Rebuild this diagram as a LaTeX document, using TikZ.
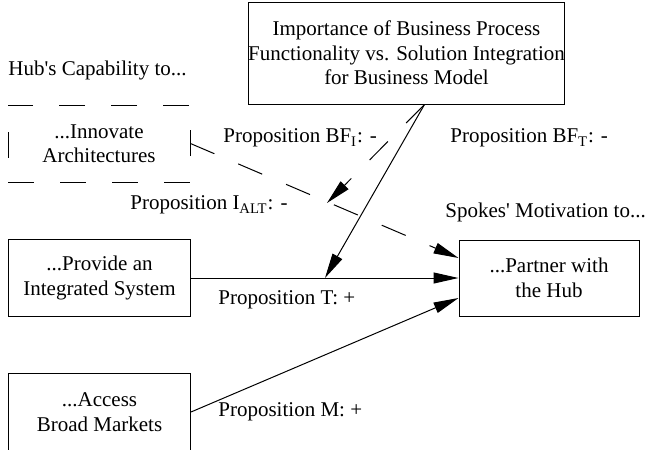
\documentclass[tikz,border=0pt]{standalone}
\usepackage{fontspec}
\setmainfont{Liberation Serif}
\usetikzlibrary{arrows.meta}

\tikzset{
  box/.style={draw, line width=0.5pt, align=center, inner sep=0pt,
    minimum width=91pt, minimum height=38.5pt},
  dashbox/.style={box, line width=0.45pt, dash pattern=on 13pt off 13pt},
  lbl/.style={inner sep=0pt, anchor=west},
  link/.style={line width=0.5pt, -{Triangle[length=12.5pt,width=5.5pt]}},
}

\begin{document}
\begin{tikzpicture}[x=0.5pt, y=-0.5pt, font=\fontsize{10.5}{12.2}\selectfont]
    \useasboundingbox (0,0) rectangle (654,450);
    % Moderator box on top
    \node[box, minimum width=149.5pt, minimum height=51pt] (imp) at (406.5,53)
      {Importance of Business Process\\Functionality vs. Solution Integration\\for Business Model};
    % Hub capabilities (left column)
    \node[lbl] (hubcap) at (8,70) {Hub\textquotesingle s Capability to...};
    \node[dashbox] (innov) at (99,143.5) {...Innovate\\Architectures};
    \node[box] (provide) at (99.5,278) {...Provide an\\Integrated System};
    \node[box] (access) at (99.5,412) {...Access\\Broad Markets};
    % Spokes' side
    \node[lbl] (spokes) at (445,212) {Spokes\textquotesingle\ Motivation to...};
    \node[box, minimum width=90pt, minimum height=38pt] (partner) at (549,278)
      {...Partner with\\the Hub};
    % Points where the moderator arrows land
    \coordinate (tland) at (325,278);
    \coordinate (iland) at (327,203);
    % Main effects
    \draw[link, dash pattern=on 13pt off 13pt] (innov.east) -- ([yshift=10pt]partner.west);
    \draw[link] (provide.east) -- (partner.west);
    \draw[link] (access.east) -- ([yshift=-10pt]partner.west);
    % Moderating effects
    \draw[link] ([xshift=9pt]imp.south) -- (tland);
    \draw[link, dash pattern=on 13pt off 13pt] ([xshift=9pt]imp.south) -- (iland);
    % Proposition labels
    \node[lbl] (pbfi) at (223,138) {Proposition BF\textsubscript{I}: -};
    \node[lbl] (pbft) at (450,138) {Proposition BF\textsubscript{T}: -};
    \node[lbl] (pialt) at (130,205) {Proposition I\textsubscript{ALT}: -};
    \node[lbl] (pt) at (218,300) {Proposition T: +};
    \node[lbl] (pm) at (218,412) {Proposition M: +};
  \end{tikzpicture}
\end{document}
